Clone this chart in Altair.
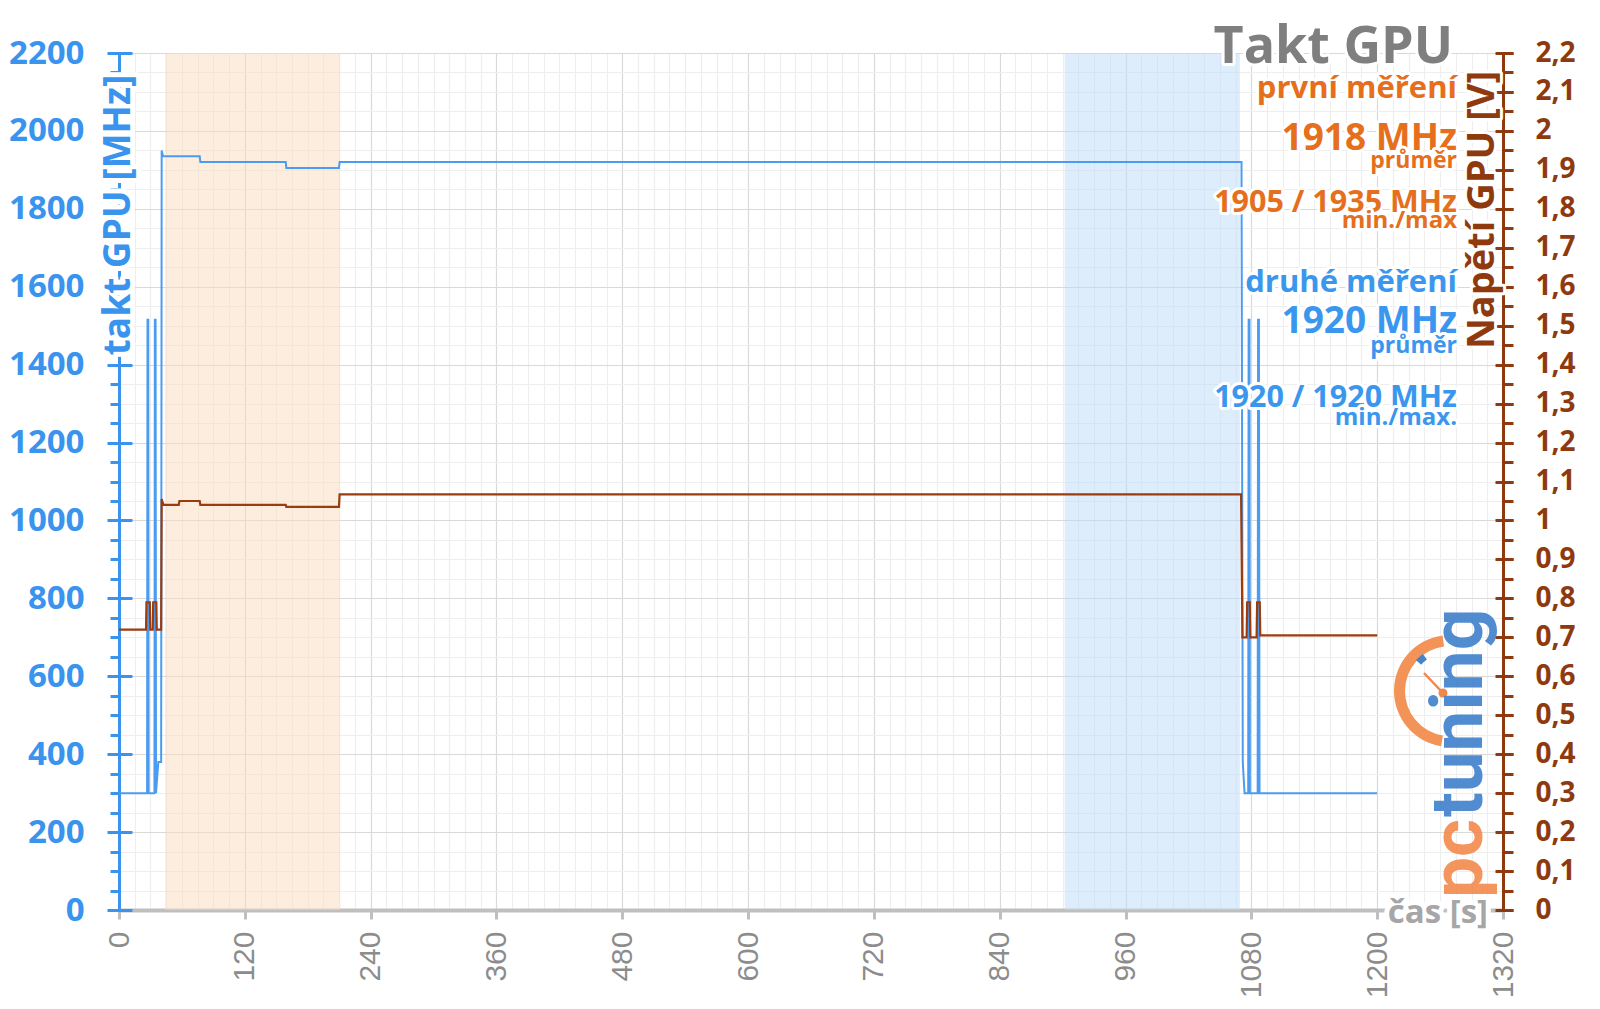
import altair as alt
import pandas as pd

# ---------------- data ----------------
clock_t = [0, 26.8, 27.2, 27.9, 28.3, 33.8, 34.2, 34.9, 35.3, 37.5, 40.2, 40.7, 42, 77, 77.6,
           159, 159.6, 209.8, 210.4, 1070.6, 1071.8, 1073.5, 1077, 1077.4, 1078.2, 1078.6,
           1086, 1086.4, 1087.2, 1087.8, 1200]
clock_mhz = [300, 300, 1515, 1515, 300, 300, 1515, 1515, 300, 380, 380, 1950, 1935, 1935, 1920,
             1920, 1905, 1905, 1920, 1920, 380, 300, 300, 1515, 1515, 300,
             300, 1515, 1515, 300, 300]

volt_t = [0, 25.8, 26.2, 29.4, 29.8, 32.2, 32.6, 35.6, 36, 40.2, 40.7, 41.5, 42.5, 57, 57.6,
          77, 77.6, 159, 159.6, 209.8, 210.4, 1070.2, 1071.5, 1075.5, 1076, 1078.5, 1079,
          1085, 1085.5, 1088, 1088.5, 1200]
volt_v = [0.72, 0.72, 0.79, 0.79, 0.72, 0.72, 0.79, 0.79, 0.72, 0.72, 1.055, 1.048, 1.04, 1.04, 1.05,
          1.05, 1.04, 1.04, 1.035, 1.035, 1.067, 1.067, 0.70, 0.70, 0.79, 0.79, 0.70,
          0.70, 0.79, 0.79, 0.705, 0.705]

band_name = ["první měření", "druhé měření"]
band_start = [44, 902]
band_end = [211, 1069]

x_ticks = list(range(0, 1321, 15))
mhz_ticks = list(range(0, 2201, 50))
mhz_major = list(range(0, 2201, 200))
volt_ticks = [round(i * 0.05, 2) for i in range(45)]
volt_major = [round(i * 0.1, 1) for i in range(23)]

# ---------------- style ----------------
FONT = "Open Sans"
BLUE_AX = "#3a94ee"
BLUE_LINE = "#4b9cf0"
BROWN = "#8e3a0e"
BROWN_LINE = "#9c3b0e"
ORANGE_TXT = "#e56f1c"
BLUE_TXT = "#3b97ee"
GRAY_AX = "#bfbfbf"

X0, Y0 = 119, 53          # page position of plot origin
W, H = 1384, 857

clock_df = pd.DataFrame({"t": clock_t, "mhz": clock_mhz})
volt_df = pd.DataFrame({"t": volt_t, "v": volt_v})
band_df = pd.DataFrame({"name": band_name, "start": band_start, "end": band_end})
one = pd.DataFrame({"a": [0]})

xscale = alt.Scale(domain=[0, 1320], nice=False, zero=False)
xaxis = alt.Axis(
    values=x_ticks, format="d",
    labelExpr="datum.value % 120 === 0 ? datum.label : ''",
    labelAngle=270, labelAlign="right", labelBaseline="middle",
    labelFont="Liberation Sans", labelFontSize=30, labelColor="#8c8c8c",
    labelPadding=12, labelOverlap=False, labelFlush=False,
    tickColor=GRAY_AX, tickWidth=3,
    tickSize=alt.condition("datum.value % 120 === 0", alt.value(9), alt.value(0)),
    domainColor=GRAY_AX, domainWidth=4,
    grid=True,
    gridColor=alt.condition("datum.value % 120 === 0", alt.value("#d9d9d9"), alt.value("#eeeeee")),
    gridWidth=1.2, title=None,
)


def X():
    return alt.X("t:Q", scale=xscale, axis=xaxis)


mhz_scale = alt.Scale(domain=[0, 2200], nice=False, zero=True)
volt_scale = alt.Scale(domain=[0, 2.2], nice=False, zero=True)

bands = alt.Chart(band_df).mark_rect(opacity=0.5).encode(
    x=alt.X("start:Q", scale=xscale, axis=xaxis),
    x2="end:Q",
    color=alt.Color("name:N", scale=alt.Scale(domain=band_name, range=["#fbdcc0", "#bbdcf9"]), legend=None),
)

clock_line = alt.Chart(clock_df).mark_line(color=BLUE_LINE, strokeWidth=2).encode(
    x=X(),
    y=alt.Y("mhz:Q", scale=mhz_scale, axis=alt.Axis(
        orient="left", values=mhz_ticks, format="d",
        labelExpr="datum.value % 200 === 0 ? datum.label : ''",
        labelFont=FONT, labelFontWeight="bold", labelFontSize=33, labelColor=BLUE_AX,
        labelPadding=26, labelOverlap=False, labelFlush=False, labelBaseline="middle",
        tickColor=BLUE_AX, tickWidth=3, tickSize=9,
        domainColor=BLUE_AX, domainWidth=3,
        grid=True,
        gridColor=alt.condition("datum.value % 200 === 0", alt.value("#d9d9d9"), alt.value("#eeeeee")),
        gridWidth=1.2, title=None,
    )),
)

clock_ticks = alt.Chart(clock_df).mark_line(strokeOpacity=0).encode(
    x=X(),
    y=alt.Y("mhz:Q", scale=mhz_scale, axis=alt.Axis(
        orient="left", values=mhz_major, labels=False, domain=False, grid=False,
        ticks=True, tickSize=25, tickWidth=3, tickColor=BLUE_AX, offset=-13, title=None,
    )),
)

volt_line = alt.Chart(volt_df).mark_line(color=BROWN_LINE, strokeWidth=2.2).encode(
    x=X(),
    y=alt.Y("v:Q", scale=volt_scale, axis=alt.Axis(
        orient="right", values=volt_ticks,
        labelExpr="round(datum.value * 20) % 2 === 0 ? replace(format(datum.value, '.1~f'), '.', ',') : ''",
        labelFont=FONT, labelFontWeight="bold", labelFontSize=28, labelColor=BROWN,
        labelPadding=22, labelOverlap=False, labelFlush=False, labelAlign="left", labelBaseline="middle",
        tickColor=BROWN, tickWidth=3, tickSize=10,
        domainColor=BROWN, domainWidth=3, grid=False, title=None,
    )),
)

volt_ticks_layer = alt.Chart(volt_df).mark_line(strokeOpacity=0).encode(
    x=X(),
    y=alt.Y("v:Q", scale=volt_scale, axis=alt.Axis(
        orient="right", values=volt_major, labels=False, domain=False, grid=False,
        ticks=True, tickSize=18, tickWidth=3, tickColor=BROWN, offset=-8, title=None,
    )),
)


def txt(s, x, y, size, color, align="right", angle=0, weight="bold", font=FONT,
        halo=6, baseline="alphabetic", opacity=1):
    base = alt.Chart(one)
    enc = dict(x=alt.value(x - X0), y=alt.value(y - Y0))
    out = []
    if halo:
        out.append(base.mark_text(text=s, font=font, fontSize=size, fontWeight=weight, align=align,
                                  baseline=baseline, angle=angle, color="white", stroke="white",
                                  strokeWidth=halo, strokeJoin="round").encode(**enc))
    out.append(base.mark_text(text=s, font=font, fontSize=size, fontWeight=weight, align=align,
                              baseline=baseline, angle=angle, color=color, opacity=opacity).encode(**enc))
    return out


texts = []
texts += txt("Takt GPU", 1453, 63, 52, "#7f7f7f")
texts += txt("první měření", 1457, 98, 31, ORANGE_TXT)
texts += txt("1918 MHz", 1457, 150, 37, ORANGE_TXT)
texts += txt("průměr", 1457, 168, 23, ORANGE_TXT)
texts += txt("1905 / 1935 MHz", 1457, 212, 30.5, ORANGE_TXT)
texts += txt("min./max", 1457, 228, 24, ORANGE_TXT)
texts += txt("druhé měření", 1457, 292, 31, BLUE_TXT)
texts += txt("1920 MHz", 1457, 333, 37, BLUE_TXT)
texts += txt("průměr", 1457, 353, 23, BLUE_TXT)
texts += txt("1920 / 1920 MHz", 1457, 407, 30.5, BLUE_TXT)
texts += txt("min./max.", 1457, 425, 24, BLUE_TXT)

# axis titles
texts += txt("takt GPU [MHz]", 119, 215, 37, BLUE_AX, align="center", angle=270, halo=10, baseline="middle")
texts += txt("Napětí GPU [V]", 1483, 210, 38, BROWN, align="center", angle=270, halo=6, baseline="middle")
texts += txt("čas [s]", 1488, 923, 33, "#a6a6a6", align="right", halo=10)

# logo
logo = []
logo.append(alt.Chart(one).mark_arc(color="#f39358", radius=56, radius2=45, theta=3.3, theta2=6.15).encode(
    x=alt.value(1450 - X0), y=alt.value(691 - Y0)))
logo.append(alt.Chart(one).mark_arc(color="#4a83c5", radius=46, radius2=39, theta=5.45, theta2=5.65).encode(
    x=alt.value(1450 - X0), y=alt.value(691 - Y0)))
logo.append(alt.Chart(one).mark_rule(color="#f0884c", strokeWidth=2.5).encode(
    x=alt.value(1424 - X0), y=alt.value(673 - Y0), x2=alt.value(1443 - X0), y2=alt.value(693 - Y0)))
logo.append(alt.Chart(one).mark_point(filled=True, color="#f0884c", size=80, opacity=1).encode(
    x=alt.value(1443 - X0), y=alt.value(693 - Y0)))
logo += txt("pc", 1482, 898, 73, "#f28a4c", align="left", angle=270, weight="bold", font="Roboto",
            halo=0, opacity=0.9)
logo += txt("tuning", 1482, 817, 73, "#3f80cc", align="left", angle=270, weight="bold", font="Roboto",
            halo=0, opacity=0.9)

chart = alt.layer(
    bands, clock_line, clock_ticks, volt_line, volt_ticks_layer, *texts, *logo
).resolve_scale(y="independent").properties(
    width=W, height=H,
    padding={"left": X0 - 8, "top": Y0 - 8, "right": 1584 - (X0 - 8) - W, "bottom": 993 - (Y0 - 8) - H},
    autosize=alt.AutoSizeParams(type="none"),
    background="white",
).configure_view(stroke=None)

chart.save("out.html", embed_options={"renderer": "svg", "actions": False})
